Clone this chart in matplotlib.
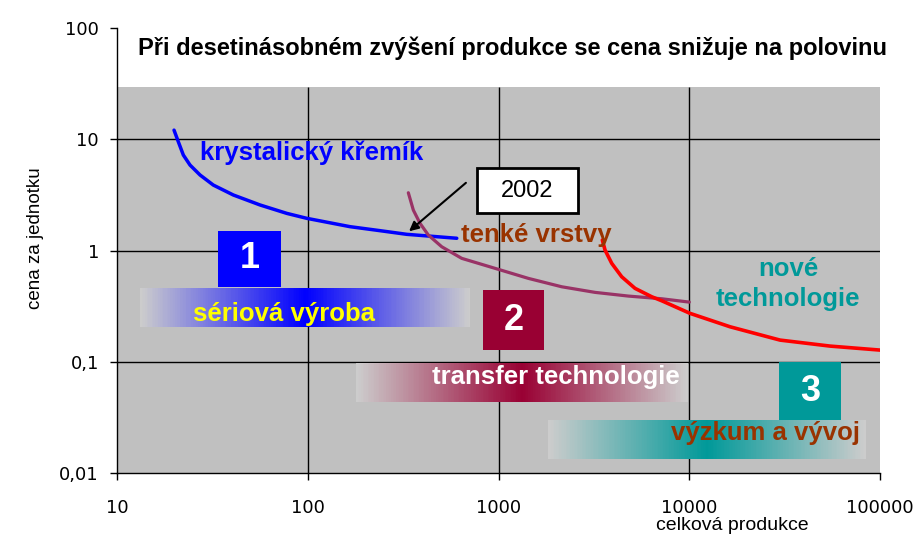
import matplotlib
matplotlib.use("Agg")
import matplotlib.pyplot as plt
import numpy as np
from matplotlib.patches import Rectangle
from matplotlib.colors import LinearSegmentedColormap

# ── data ──────────────────────────────────────────────────────────
# krystalický křemík (blue)
si_x = [19.9, 20.96, 22.27, 24.14, 27.24, 31.98, 40.7, 56.2, 77.6, 98.7, 166.5, 239, 330, 604]
si_y = [12.1, 9.51, 7.22, 5.87, 4.78, 3.88, 3.16, 2.57, 2.16, 1.95, 1.64, 1.51, 1.40, 1.29]
# tenké vrstvy (purple)
thin_x = [336.6, 357.6, 387.7, 428.5, 503.8, 641.4, 958.8, 1433, 2145, 3206, 4792, 7172, 10000]
thin_y = [3.31, 2.31, 1.756, 1.379, 1.082, 0.851, 0.692, 0.5623, 0.4725, 0.4208, 0.3898, 0.3686, 0.344]
# nové technologie (red)
new_x = [3501, 3617, 3922, 4424, 5195, 6357, 7172, 10090, 16360, 29900, 54700, 100000]
new_y = [1.243, 1.010, 0.767, 0.5812, 0.4572, 0.3842, 0.3537, 0.2725, 0.2064, 0.1567, 0.1384, 0.1274]

x_ticks = [10, 100, 1000, 10000, 100000]
x_labels = ["10", "100", "1000", "10000", "100000"]
y_ticks = [0.01, 0.1, 1, 10, 100]
y_labels = ["0,01", "0,1", "1", "10", "100"]

BLUE = "#0000FF"
PLUM = "#993366"
RED = "#FF0000"
WINE = "#990033"
TEAL = "#009999"
BROWN = "#993300"
GRAY = "#C0C0C0"

LABEL_FONT = ["Liberation Sans", "DejaVu Sans"]

fig = plt.figure(figsize=(9.15, 5.43), dpi=100)
ax = fig.add_axes([0.1279, 0.1289, 0.8339, 0.8193])
ax.set_xscale("log")
ax.set_yscale("log")
ax.set_xlim(10, 100000)
ax.set_ylim(0.01, 100)

# gray plot area (stops below the title) + black grid
gray_top = 29.4
ax.axhspan(0.01, gray_top, color=GRAY, lw=0, zorder=0)
ax.vlines([100, 1000, 10000], 0.01, gray_top, colors="black", lw=1, zorder=1)
ax.hlines([0.1, 1, 10], 10, 100000, colors="black", lw=1, zorder=1)

for s in ["top", "right"]:
    ax.spines[s].set_visible(False)
for s in ["left", "bottom"]:
    ax.spines[s].set_linewidth(1.0)

ax.set_xticks(x_ticks)
ax.set_xticklabels(x_labels)
ax.set_yticks(y_ticks)
ax.set_yticklabels(y_labels)
ax.minorticks_off()
ax.tick_params(axis="x", length=5, width=1, pad=14, labelsize=13)
ax.tick_params(axis="y", length=5, width=1, pad=8, labelsize=13)


def gradient_bar(x0, x1, y0, y1, color, end="#CCCCCC"):
    cmap = LinearSegmentedColormap.from_list("g", [end, color, end])
    xe = np.geomspace(x0, x1, 200)
    c = np.linspace(0, 1, len(xe) - 1)[None, :]
    ax.pcolormesh(xe, [y0, y1], c, cmap=cmap, shading="flat", zorder=2)


# gradient bands + numbered boxes
gradient_bar(13.2, 710, 0.206, 0.462, BLUE)
gradient_bar(179, 9850, 0.0436, 0.0971, WINE)
gradient_bar(1818, 84450, 0.0133, 0.0299, TEAL)

for (bx0, bx1, by0, by1, col, num, cx, cy) in [
    (33.8, 72.4, 0.469, 1.503, BLUE, "1", 49.5, 0.84),
    (829, 1732, 0.1272, 0.4406, WINE, "2", 1198, 0.2366),
    (29550, 62470, 0.0299, 0.0992, TEAL, "3", 42950, 0.0544),
]:
    ax.add_patch(Rectangle((bx0, by0), bx1 - bx0, by1 - by0, fc=col, ec="none", zorder=3))
    ax.text(cx, cy, num, color="white", fontsize=26, fontweight="bold",
            family=LABEL_FONT, ha="center", va="center", zorder=4)

# curves
ax.plot(si_x, si_y, color=BLUE, lw=2.5, zorder=5, solid_capstyle="round", solid_joinstyle="round")
ax.plot(thin_x, thin_y, color=PLUM, lw=2.3, zorder=5, solid_capstyle="round", solid_joinstyle="round")
ax.plot(new_x, new_y, color=RED, lw=2.6, zorder=5, solid_capstyle="round", solid_joinstyle="round")

# curve / band labels
lbl = dict(fontsize=18.5, fontweight="bold", family=LABEL_FONT, ha="center", va="center", zorder=6)
ax.text(105, 7.53, "krystalický křemík", color=BLUE, **lbl)
ax.text(1573, 1.38, "tenké vrstvy", color=BROWN, **lbl)
ax.text(32940, 0.50, "nové\ntechnologie", color=TEAL, linespacing=1.3, **lbl)
ax.text(74.6, 0.268, "sériová výroba", color="#FFFF00", **lbl)
ax.text(1990, 0.0727, "transfer technologie", color="white", **lbl)
ax.text(24950, 0.0228, "výzkum a vývoj", color=BROWN, **lbl)

# 2002 marker
ax.add_patch(Rectangle((771.6, 2.17), 2611 - 771.6, 5.52 - 2.17, fc="white", ec="black", lw=2, zorder=6))
ax.text(1419, 3.46, "2002", fontsize=17, family=LABEL_FONT, ha="center", va="center", zorder=7)
ax.annotate("", xy=(331, 1.436), xytext=(692, 4.22),
            arrowprops=dict(arrowstyle="-|>", color="black", lw=1.5, mutation_scale=14), zorder=7)

# title and axis labels
fig.text(0.560, 0.9116, "Při desetinásobném zvýšení produkce se cena snižuje na polovinu",
         fontsize=17, fontweight="bold", family=LABEL_FONT, ha="center", va="center")
fig.text(35 / 915, 1 - 238 / 543, "cena za jednotku", rotation=90, fontsize=13.5,
         family=LABEL_FONT, ha="center", va="center")
fig.text(732 / 915, 1 - 525 / 543, "celková produkce", fontsize=14,
         family=LABEL_FONT, ha="center", va="center")

fig.savefig("out.png", dpi=100, facecolor="white")
